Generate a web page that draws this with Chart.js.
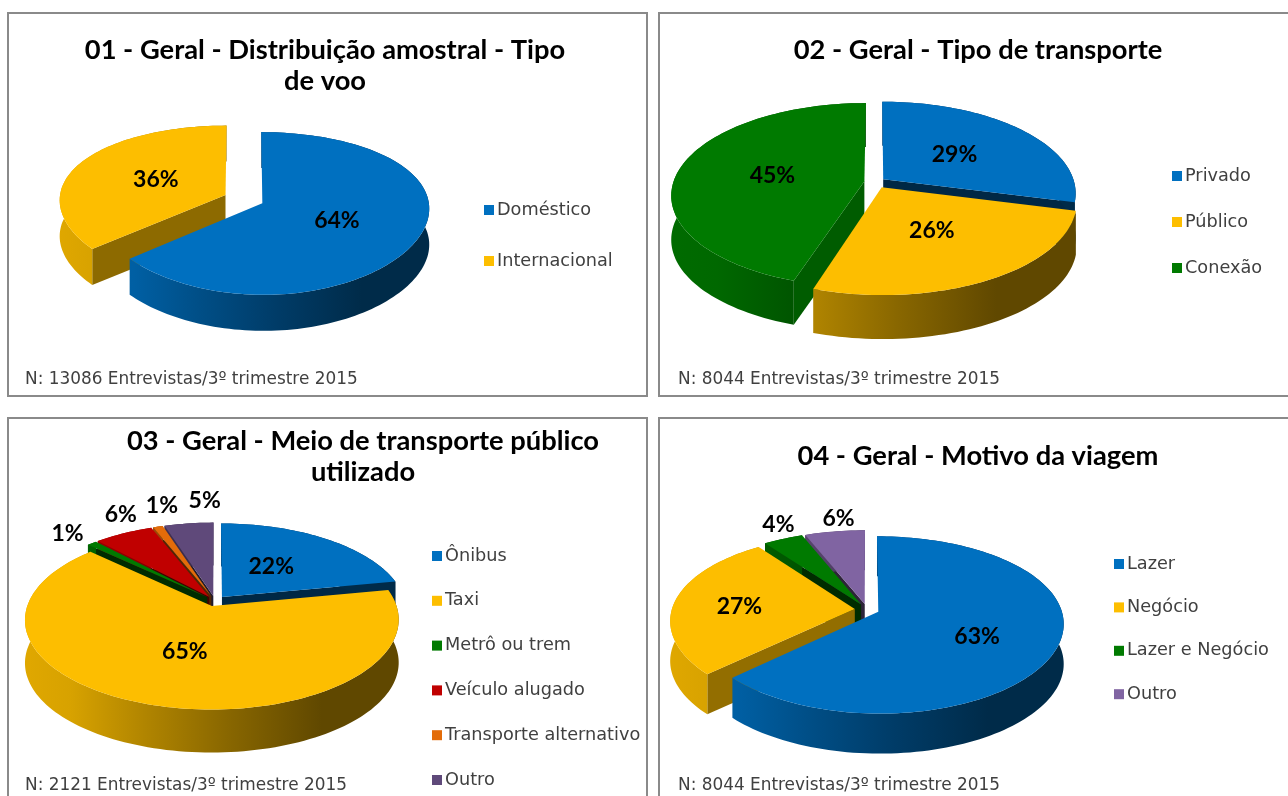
<!DOCTYPE html>
<html><head><meta charset="utf-8">
<script src="https://cdn.jsdelivr.net/npm/chart.js@4"></script>
<style>
html,body{margin:0;padding:0;background:#fff;width:1288px;height:796px;overflow:hidden}
.panel{position:absolute;box-sizing:border-box;border:2.5px solid #8a8a8a;background:#fff}
canvas{position:absolute;filter:blur(0.6px)}
</style></head><body>
<script>
const title1 = ['01 - Geral - Distribuição amostral - Tipo','de voo'];
const categories1 = ['Doméstico','Internacional'];
const values1 = [64,36];
const colors1 = ['#0070C0','#FDBE00'];
const note1 = 'N: 13086 Entrevistas/3º trimestre 2015';

const title2 = ['02 - Geral - Tipo de transporte'];
const categories2 = ['Privado','Público','Conexão'];
const values2 = [29,26,45];
const colors2 = ['#0070C0','#FDBE00','#007A00'];
const note2 = 'N: 8044 Entrevistas/3º trimestre 2015';

const title3 = ['03 - Geral - Meio de transporte público','utilizado'];
const categories3 = ['Ônibus','Taxi','Metrô ou trem','Veículo alugado','Transporte alternativo','Outro'];
const values3 = [22,65,1,6,1,5];
const colors3 = ['#0070C0','#FDBE00','#007A00','#C00000','#E36C09','#5F497A'];
const note3 = 'N: 2121 Entrevistas/3º trimestre 2015';

const title4 = ['04 - Geral - Motivo da viagem'];
const categories4 = ['Lazer','Negócio','Lazer e Negócio','Outro'];
const values4 = [63,27,4,6];
const colors4 = ['#0070C0','#FDBE00','#007A00','#8064A2'];
const note4 = 'N: 8044 Entrevistas/3º trimestre 2015';

const FONT_TITLE = 'Lato, "Open Sans", sans-serif';
const FONT_TEXT = '"DejaVu Sans", sans-serif';

const panels = [
 {title:title1,cats:categories1,vals:values1,cols:colors1,note:note1,
  box:[7,12,641,385],canvasW:641,canvasH:385,padL:18,padR:23,titleTop:23,noteBottom:7,
  rx:166,ry:79,k:.125,kx:.06,cx:236.5,cy:187,depth:36,explode:[.125,.12],
  lx:490,ly:198,gap:51,
  labelR:[.5,.5],nudge:[[-2,0],[4,1]]},
 {title:title2,cats:categories2,vals:values2,cols:colors2,note:note2,
  box:[658,12,640,385],canvasW:630,canvasH:385,padL:20,padR:10,titleTop:23,noteBottom:7,
  rx:191,ry:90,k:.15,kx:.15,cx:217.7,cy:170,depth:44,explode:[.05,.065,.06],
  lx:527,ly:164,gap:46,
  labelR:[.55,.5,.5],nudge:[[-7,4],[0,0],[1,1]]},
 {title:title3,cats:categories3,vals:values3,cols:colors3,note:note3,
  box:[7,417,641,400],canvasW:700,canvasH:379,padL:18,padR:6,titleTop:9,noteBottom:0,
  rx:183,ry:86,k:.153,kx:.153,cx:208,cy:184,depth:43,explode:[.06,.06,.06,.06,.06,.06],
  lx:438,ly:139,gap:44.8,
  labelR:[.5,.5,1.2,1.2,1.2,1.2],nudge:[[-5,0],[1,0],[-4,0],[12,-8],[13,-9],[20,-11]]},
 {title:title4,cats:categories4,vals:values4,cols:colors4,note:note4,
  box:[658,417,640,400],canvasW:630,canvasH:379,padL:20,padR:10,titleTop:24,noteBottom:0,
  rx:183,ry:86,k:.148,kx:.13,cx:209,cy:192.5,depth:40,explode:[.067,.067,.067,.067],
  lx:469,ly:147,gap:43.4,
  labelR:[.5,.5,1.2,1.2],nudge:[[12,7],[-25,2],[9,-3],[9,-1]]}
];

function rgb(hex){return [1,3,5].map(i=>parseInt(hex.substr(i,2),16));}
function shade(hex,f){const c=rgb(hex);return `rgb(${c.map(v=>Math.round(v*f)).join(',')})`;}
const WALL_STOPS=[[0,.88],[.115,.85],[.315,.7],[.54,.54],[.8,.38],[1,.38]];

function makePie3d(p){
  const project=(X,Z)=>({x:p.cx+p.rx*X/(1-p.kx*Z),y:p.cy+p.ry*Z/(1-p.k*Z)});
  const geom=(arc,i)=>{
    const mid=(arc.startAngle+arc.endAngle)/2,e=p.explode[i];
    return {mid,ex:e*Math.cos(mid),ez:e*Math.sin(mid)};
  };
  const path=(ctx,pts)=>{ctx.beginPath();pts.forEach((q,i)=>i?ctx.lineTo(q.x,q.y):ctx.moveTo(q.x,q.y));ctx.closePath();};
  return {
    id:'pie3d',
    afterLayout(chart){
      const L=chart.legend,fs=L.options.labels.font.size,pad=L.options.labels.padding;
      L.left=p.lx-fs/2-pad;L.top=p.ly-fs/2-pad;L.right=chart.width;L.bottom=chart.height+300;
    },
    beforeDatasetDraw(chart,args){
      const ctx=chart.ctx,data=chart.getDatasetMeta(args.index).data,arcs=data.slice();
      arcs.sort((a,b)=>Math.sin((a.startAngle+a.endAngle)/2)-Math.sin((b.startAngle+b.endAngle)/2));
      arcs.forEach(arc=>{
        const g=geom(arc,data.indexOf(arc)),col=arc.options.backgroundColor,n=Math.max(4,Math.ceil((arc.endAngle-arc.startAngle)/0.03));
        const rim=[];
        for(let i=0;i<=n;i++){
          const a=arc.startAngle+(arc.endAngle-arc.startAngle)*i/n;
          rim.push(project(g.ex+Math.cos(a),g.ez+Math.sin(a)));
        }
        const tip=project(g.ex,g.ez),down=q=>({x:q.x,y:q.y+p.depth});
        const thetaS=((arc.startAngle+Math.PI/2)*180/Math.PI+360)%360;
        if(Math.cos(arc.startAngle)<-1e-3){
          const f=Math.min(.85,Math.max(.36,.75-(thetaS-198)*.0059));
          path(ctx,[tip,rim[0],down(rim[0]),down(tip)]);
          ctx.fillStyle=shade(col,f);ctx.fill();
        }
        if(Math.cos(arc.endAngle)>1e-3){
          path(ctx,[tip,rim[n],down(rim[n]),down(tip)]);
          ctx.fillStyle=shade(col,.36);ctx.fill();
        }
        const x0=project(g.ex-1,0).x,x1=project(g.ex+1,0).x;
        const grad=ctx.createLinearGradient(x0,0,x1,0);
        WALL_STOPS.forEach(s=>grad.addColorStop(s[0],shade(col,s[1])));
        path(ctx,rim.concat(rim.slice().reverse().map(down)));
        ctx.fillStyle=grad;ctx.fill();
        path(ctx,[tip].concat(rim));
        ctx.fillStyle=col;ctx.fill();
      });
      return false;
    },
    afterDatasetsDraw(chart){
      const ctx=chart.ctx,arcs=chart.getDatasetMeta(0).data;
      ctx.save();
      ctx.font=`bold 23px ${FONT_TITLE}`;
      ctx.fillStyle='#000';ctx.textAlign='center';ctx.textBaseline='middle';
      arcs.forEach((arc,i)=>{
        const g=geom(arc,i),r=p.labelR[i];
        const q=project(g.ex+r*Math.cos(g.mid),g.ez+r*Math.sin(g.mid));
        ctx.fillText(p.vals[i]+'%',q.x+p.nudge[i][0],q.y+p.nudge[i][1]);
      });
      ctx.restore();
    },
    afterDraw(chart){
      const ctx=chart.ctx,L=chart.legend;
      ctx.save();
      L.legendItems.forEach((it,i)=>{
        ctx.fillStyle=it.fillStyle;
        ctx.fillRect(p.lx-13,p.ly+i*p.gap-5,10,10);
      });
      ctx.restore();
    }
  };
}

panels.forEach(p=>{
  const div=document.createElement('div');
  div.className='panel';
  div.style.cssText=`left:${p.box[0]}px;top:${p.box[1]}px;width:${p.box[2]}px;height:${p.box[3]}px`;
  document.body.appendChild(div);
});
panels.forEach(p=>{
  const c=document.createElement('canvas');
  c.width=p.canvasW;c.height=p.canvasH;
  c.style.left=p.box[0]+'px';c.style.top=p.box[1]+'px';
  document.body.appendChild(c);
  new Chart(c,{
    type:'pie',
    data:{labels:p.cats,datasets:[{data:p.vals,backgroundColor:p.cols,borderWidth:0}]},
    options:{
      responsive:false,animation:false,radius:p.rx,
      layout:{padding:{left:p.padL,right:p.padR,top:0,bottom:0}},
      plugins:{
        tooltip:{enabled:false},
        title:{display:true,text:p.title,color:'#000',align:'center',
          font:{family:FONT_TITLE,size:27.3,weight:'bold',lineHeight:1.14},
          padding:{top:p.titleTop,bottom:4}},
        subtitle:{display:true,text:p.note,position:'bottom',align:'start',color:'#404040',
          font:{family:FONT_TEXT,size:16.9,weight:'normal',lineHeight:1.2},
          padding:{top:0,bottom:p.noteBottom}},
        legend:{display:true,position:'right',align:'start',
          labels:{boxWidth:0,color:'#404040',font:{family:FONT_TEXT,size:17.7},padding:p.gap-17.7}}
      }
    },
    plugins:[makePie3d(p)]
  });
});
</script>
</body></html>
